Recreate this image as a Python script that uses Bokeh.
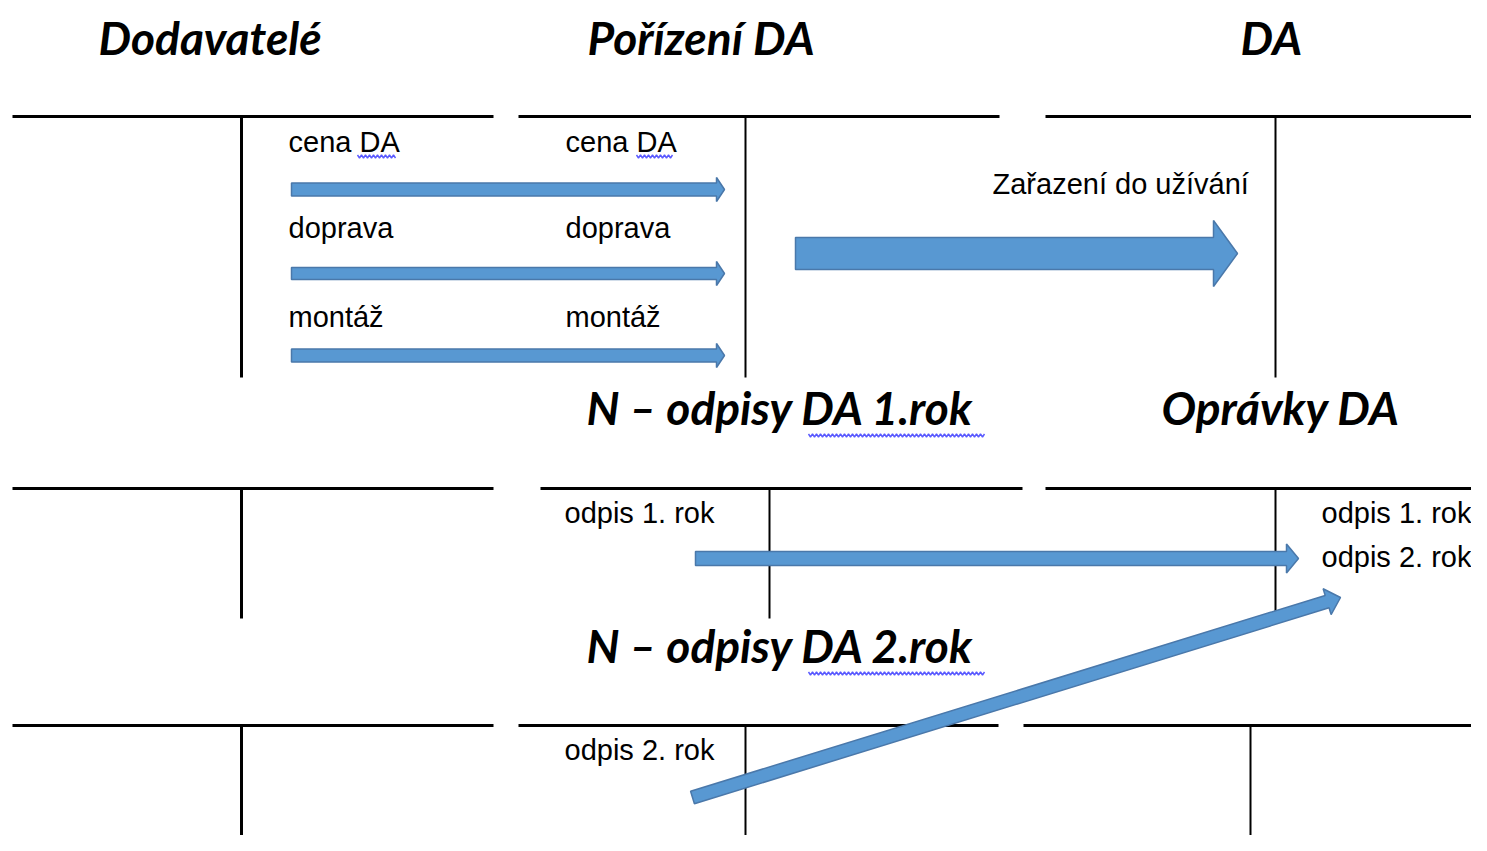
import numpy as np
from bokeh.plotting import figure
from bokeh.models import Range1d
from bokeh.core.properties import value
from bokeh.embed import file_html
from bokeh.resources import INLINE

# ---- diagram content ----
title_labels = ["Dodavatelé", "Pořízení DA", "DA",
                "N – odpisy DA 1.rok", "Oprávky DA", "N – odpisy DA 2.rok"]
title_x = [98, 587, 1240, 586, 1161, 586]
title_y = [37, 37, 37, 407, 407, 645]

entry_labels = ["cena DA", "cena DA", "doprava", "doprava", "montáž", "montáž",
                "Zařazení do užívání", "odpis 1. rok", "odpis 1. rok",
                "odpis 2. rok", "odpis 2. rok"]
entry_x = [288, 565, 288, 565, 288, 565, 992, 564, 1321, 1321, 564]
entry_y = [141, 141, 227, 227, 316, 316, 183, 512, 512, 556, 749]

# T-accounts
t_left = [12, 518, 1045, 12, 540, 1045, 12, 518, 1023]
t_right = [493, 999, 1487, 493, 1022, 1487, 493, 998, 1482]
t_top = [116, 116, 116, 488, 488, 488, 725, 725, 725]
t_mid = [241, 745, 1275, 241, 769, 1275, 241, 745, 1250]
t_bottom = [377, 377, 377, 618, 618, 618, 851, 851, 851]
t_mid_w = [3, 2, 2, 3, 2, 2, 3, 2, 2]

# arrows
arrow_x0 = [291, 291, 291, 795, 695, 692]
arrow_y0 = [189, 273, 355, 253, 558, 797]
arrow_x1 = [724, 724, 724, 1237, 1298, 1340]
arrow_y1 = [189, 273, 355, 253, 558, 597]
arrow_shaft = [13, 12, 13, 32, 14, 13]
arrow_head_w = [24, 24, 24, 66, 29, 27]
arrow_head_len = [8, 8, 8, 24, 12, 14]

# spell-check squiggles
sq_x0 = [357, 636, 808, 808]
sq_x1 = [396, 673, 984, 984]
sq_y = [156, 156, 435, 673]

W, H = 1471, 835
p = figure(width=W, height=H, output_backend="svg", toolbar_location=None,
           x_range=Range1d(0, W), y_range=Range1d(H, 0),
           min_border=0)
p.axis.visible = False
p.grid.visible = False
p.outline_line_color = None
p.background_fill_color = "white"
p.border_fill_color = "white"

# T-account lines
p.segment(x0=t_left, y0=t_top, x1=t_right, y1=t_top, line_color="black", line_width=3)
p.segment(x0=t_mid, y0=t_top, x1=t_mid, y1=t_bottom, line_color="black",
          line_width=t_mid_w)

# arrows as block polygons
def block_arrow(x0, y0, x1, y1, sw, hw, hl):
    d = np.array([x1 - x0, y1 - y0], float)
    L = np.hypot(*d)
    u = d / L
    n = np.array([-u[1], u[0]])
    a = np.array([x0, y0], float)
    tip = np.array([x1, y1], float)
    neck = tip - u * hl
    pts = [a + n * sw / 2, neck + n * sw / 2, neck + n * hw / 2, tip,
           neck - n * hw / 2, neck - n * sw / 2, a - n * sw / 2]
    return [q[0] for q in pts], [q[1] for q in pts]

axs, ays = [], []
for i in range(len(arrow_x0)):
    xs, ys = block_arrow(arrow_x0[i], arrow_y0[i], arrow_x1[i], arrow_y1[i],
                         arrow_shaft[i], arrow_head_w[i], arrow_head_len[i])
    axs.append(xs)
    ays.append(ys)
p.patches(axs, ays, fill_color="#5898d2", line_color="#4a78aa", line_width=1.5)

# squiggles
for x0, x1, y in zip(sq_x0, sq_x1, sq_y):
    xs = np.arange(x0, x1 + 1, 2)
    ys = y + np.where(np.arange(len(xs)) % 2 == 0, -1.5, 1.5)
    p.line(xs, ys, line_color="#3030ff", line_width=1.4, line_alpha=0.8)

# titles
p.text(x=title_x, y=title_y, text=title_labels,
       text_font=value("Lato"), text_font_style="bold italic",
       text_font_size="46px", text_baseline="alphabetic", text_align="left",
       text_color="black")

# entries
p.text(x=entry_x, y=entry_y, text=entry_labels,
       text_font=value("Liberation Sans"), text_font_size="29px",
       text_baseline="alphabetic", text_align="left", text_color="black")

open("out.html", "w").write(file_html(p, INLINE))
